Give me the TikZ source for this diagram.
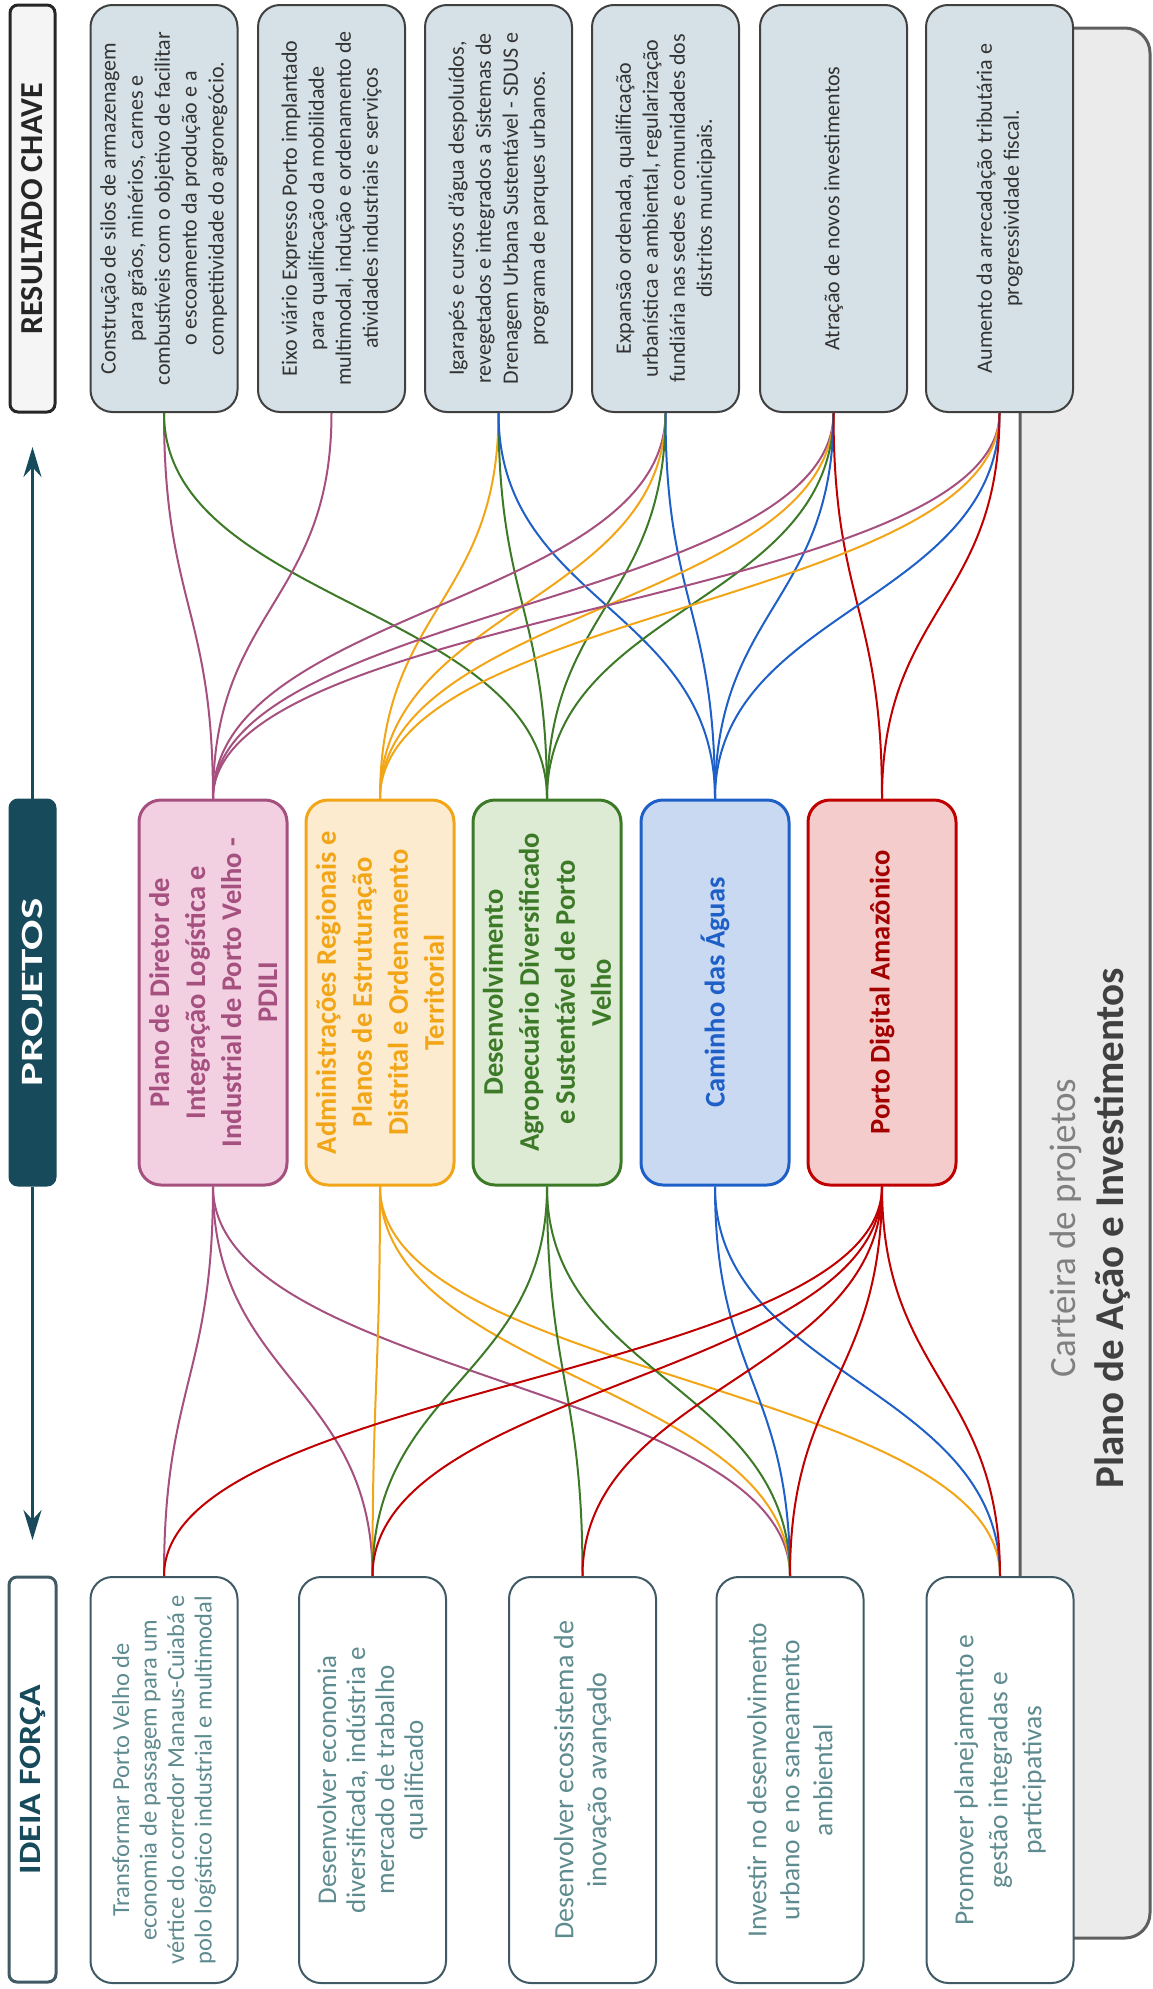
\documentclass[tikz,border=0pt]{standalone}
\usepackage{fontspec}
\setmainfont{Carlito}
\usepackage{graphicx}
\usepackage{tikz}
\usetikzlibrary{arrows.meta}

\definecolor{darkteal}{HTML}{174A5A}
\definecolor{ideatext}{HTML}{5E8B8F}
\definecolor{ideadraw}{HTML}{3F5A64}
\definecolor{resfill}{HTML}{D5E1E6}
\definecolor{pinkln}{HTML}{A5507F}
\definecolor{pinkfill}{HTML}{F2D0E2}
\definecolor{orangeln}{HTML}{F2A516}
\definecolor{orangefill}{HTML}{FDEBD0}
\definecolor{greenln}{HTML}{3D7A28}
\definecolor{greenfill}{HTML}{DDEBD5}
\definecolor{blueln}{HTML}{1F5FC8}
\definecolor{bluefill}{HTML}{C9D9F2}
\definecolor{redln}{HTML}{C00000}
\definecolor{redfill}{HTML}{F4CCCC}
\definecolor{panelfill}{HTML}{EBEBEB}
\definecolor{panelln}{HTML}{5F5F5F}

\tikzset{
  box/.style={rectangle, rounded corners=22pt, rotate=90, align=center, inner sep=0pt, line width=2pt},
  resbox/.style={box, draw=black!75, fill=resfill, text=black!80, minimum width=407pt, minimum height=147pt, font=\fontsize{22}{27}\selectfont},
  ideabox/.style={box, draw=ideadraw, fill=white, text=ideatext, minimum width=406pt, minimum height=147pt},
  projbox/.style={box, line width=3pt, minimum width=385pt, minimum height=148pt, font=\bfseries\fontsize{28.5}{36}\selectfont},
  titlebox/.style={box, rounded corners=8pt, line width=3pt, minimum height=45pt, font=\bfseries\fontsize{31}{36}\selectfont},
  link/.style={line width=2pt},
}

\begin{document}
\begin{tikzpicture}[x=1pt,y=-1pt]
    \useasboundingbox (0,0) rectangle (1152,1989);

    % fundo cinza
    \draw[panelln, fill=panelfill, line width=3pt, rounded corners=25pt] (1020,28) rectangle (1150,1938);
    \node[rotate=90, align=center, text=black!50, font=\fontsize{37}{48}\selectfont] at (1090,1228) (carteira){Carteira de projetos\\{\fontsize{41}{48}\selectfont\bfseries\color{black!75}Plano de Ação e Investimentos}};

    % titulos
    \node[titlebox, draw=black!85, fill=black!4, text=black!85, minimum width=407pt, font=\bfseries\fontsize{32}{36}\selectfont] at (32.5,208.5) (tres){RESULTADO CHAVE};
    \node[titlebox, draw=darkteal, fill=darkteal, text=white, minimum width=385pt] at (32.5,992.5) (tproj){\scalebox{1.45}[1]{PROJETOS}};
    \node[titlebox, draw=ideadraw, fill=white, text=darkteal, minimum width=405pt, minimum height=47pt] at (32.5,1779.5) (tidea){\scalebox{1.15}[1]{IDEIA FORÇA}};

    \coordinate (uptip) at (32.5,447);
    \coordinate (downtip) at (32.5,1540);
    \draw[darkteal, line width=3pt, -{Stealth[length=30pt,width=18pt]}] (tproj.east) -- (uptip);
    \draw[darkteal, line width=3pt, -{Stealth[length=30pt,width=18pt]}] (tproj.west) -- (downtip);

    % resultados
    \node[resbox] at (164,208.5) (r1){Construção de silos de armazenagem\\para grãos, minérios, carnes e\\combustíveis com o objetivo de facilitar\\o escoamento da produção e a\\competitividade do agronegócio.};
    \node[resbox] at (331.5,208.5) (r2){Eixo viário Expresso Porto implantado\\para qualificação da mobilidade\\multimodal, indução e ordenamento de\\atividades industriais e serviços};
    \node[resbox] at (498.5,208.5) (r3){Igarapés e cursos d'água despoluídos,\\revegetados e integrados a Sistemas de\\Drenagem Urbana Sustentável - SDUS e\\programa de parques urbanos.};
    \node[resbox] at (665.5,208.5) (r4){Expansão ordenada, qualificação\\urbanística e ambiental, regularização\\fundiária nas sedes e comunidades dos\\distritos municipais.};
    \node[resbox] at (833.5,208.5) (r5){Atração de novos investimentos};
    \node[resbox] at (999.5,208.5) (r6){Aumento da arrecadação tributária e\\progressividade fiscal.};

    % projetos
    \node[projbox, draw=pinkln, fill=pinkfill, text=pinkln] at (213,992.5) (p1){Plano de Diretor de\\Integração Logística e\\Industrial de Porto Velho -\\PDILI};
    \node[projbox, draw=orangeln, fill=orangefill, text=orangeln] at (380,992.5) (p2){Administrações Regionais e\\Planos de Estruturação\\Distrital e Ordenamento\\Territorial};
    \node[projbox, draw=greenln, fill=greenfill, text=greenln] at (547,992.5) (p3){Desenvolvimento\\Agropecuário Diversificado\\e Sustentável de Porto\\Velho};
    \node[projbox, draw=blueln, fill=bluefill, text=blueln] at (715,992.5) (p4){Caminho das Águas};
    \node[projbox, draw=redln, fill=redfill, text=redln!85!black] at (882,992.5) (p5){Porto Digital Amazônico};

    % ideias
    \node[ideabox, font=\fontsize{24.5}{27.5}\selectfont] at (164,1780) (i1){Transformar Porto Velho de\\economia de passagem para um\\vértice do corredor Manaus-Cuiabá e\\polo logístico industrial e multimodal};
    \node[ideabox, font=\fontsize{27}{29}\selectfont] at (372.5,1780) (i2){Desenvolver economia\\diversificada, indústria e\\mercado de trabalho\\qualificado};
    \node[ideabox, font=\fontsize{28}{33}\selectfont] at (582.5,1780) (i3){Desenvolver ecossistema de\\inovação avançado};
    \node[ideabox, font=\fontsize{27.5}{33}\selectfont] at (790,1780) (i4){Investir no desenvolvimento\\urbano e no saneamento\\ambiental};
    \node[ideabox, font=\fontsize{27.5}{34}\selectfont] at (1000,1780) (i5){Promover planejamento e\\gestão integradas e\\participativas};

    % resultados -> projetos
    \draw[link, pinkln] (r1.west) .. controls +(0,190) and +(0,-190) .. (p1.east);
    \draw[link, greenln] (r1.west) .. controls +(0,190) and +(0,-190) .. (p3.east);
    \draw[link, pinkln] (r2.west) .. controls +(0,190) and +(0,-190) .. (p1.east);
    \draw[link, orangeln] (r3.west) .. controls +(0,190) and +(0,-190) .. (p2.east);
    \draw[link, greenln] (r3.west) .. controls +(0,190) and +(0,-190) .. (p3.east);
    \draw[link, blueln] (r3.west) .. controls +(0,190) and +(0,-190) .. (p4.east);
    \draw[link, pinkln] (r4.west) .. controls +(0,190) and +(0,-190) .. (p1.east);
    \draw[link, orangeln] (r4.west) .. controls +(0,190) and +(0,-190) .. (p2.east);
    \draw[link, greenln] (r4.west) .. controls +(0,190) and +(0,-190) .. (p3.east);
    \draw[link, blueln] (r4.west) .. controls +(0,190) and +(0,-190) .. (p4.east);
    \draw[link, pinkln] (r5.west) .. controls +(0,190) and +(0,-190) .. (p1.east);
    \draw[link, orangeln] (r5.west) .. controls +(0,190) and +(0,-190) .. (p2.east);
    \draw[link, greenln] (r5.west) .. controls +(0,190) and +(0,-190) .. (p3.east);
    \draw[link, blueln] (r5.west) .. controls +(0,190) and +(0,-190) .. (p4.east);
    \draw[link, redln] (r5.west) .. controls +(0,190) and +(0,-190) .. (p5.east);
    \draw[link, pinkln] (r6.west) .. controls +(0,190) and +(0,-190) .. (p1.east);
    \draw[link, orangeln] (r6.west) .. controls +(0,190) and +(0,-190) .. (p2.east);
    \draw[link, blueln] (r6.west) .. controls +(0,190) and +(0,-190) .. (p4.east);
    \draw[link, redln] (r6.west) .. controls +(0,190) and +(0,-190) .. (p5.east);

    % projetos -> ideias
    \draw[link, pinkln] (p1.west) .. controls +(0,190) and +(0,-190) .. (i1.east);
    \draw[link, pinkln] (p1.west) .. controls +(0,190) and +(0,-190) .. (i2.east);
    \draw[link, pinkln] (p1.west) .. controls +(0,190) and +(0,-190) .. (i4.east);
    \draw[link, orangeln] (p2.west) .. controls +(0,190) and +(0,-190) .. (i2.east);
    \draw[link, orangeln] (p2.west) .. controls +(0,190) and +(0,-190) .. (i4.east);
    \draw[link, orangeln] (p2.west) .. controls +(0,190) and +(0,-190) .. (i5.east);
    \draw[link, greenln] (p3.west) .. controls +(0,190) and +(0,-190) .. (i2.east);
    \draw[link, greenln] (p3.west) .. controls +(0,190) and +(0,-190) .. (i3.east);
    \draw[link, greenln] (p3.west) .. controls +(0,190) and +(0,-190) .. (i4.east);
    \draw[link, blueln] (p4.west) .. controls +(0,190) and +(0,-190) .. (i4.east);
    \draw[link, blueln] (p4.west) .. controls +(0,190) and +(0,-190) .. (i5.east);
    \draw[link, redln] (p5.west) .. controls +(0,190) and +(0,-190) .. (i1.east);
    \draw[link, redln] (p5.west) .. controls +(0,190) and +(0,-190) .. (i2.east);
    \draw[link, redln] (p5.west) .. controls +(0,190) and +(0,-190) .. (i3.east);
    \draw[link, redln] (p5.west) .. controls +(0,190) and +(0,-190) .. (i4.east);
    \draw[link, redln] (p5.west) .. controls +(0,190) and +(0,-190) .. (i5.east);
\end{tikzpicture}
\end{document}
